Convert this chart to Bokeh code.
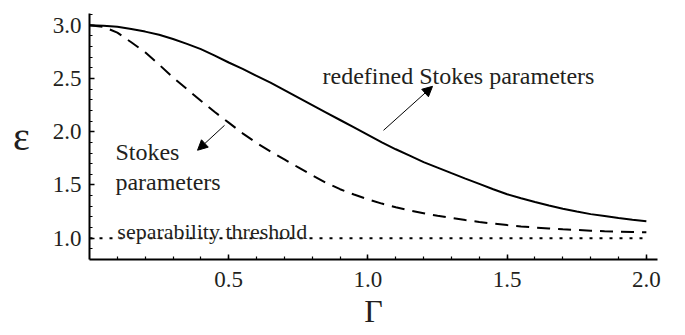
from bokeh.plotting import figure
from bokeh.models import Range1d, FixedTicker, NumeralTickFormatter, Arrow, NormalHead
from bokeh.core.properties import value
from bokeh.embed import file_html
from bokeh.resources import INLINE

# Data
gamma = [0.00, 0.05, 0.10, 0.15, 0.20, 0.25, 0.30, 0.35, 0.40, 0.45,
         0.50, 0.55, 0.60, 0.65, 0.70, 0.75, 0.80, 0.85, 0.90, 0.95,
         1.00, 1.05, 1.10, 1.15, 1.20, 1.25, 1.30, 1.35, 1.40, 1.45,
         1.50, 1.55, 1.60, 1.65, 1.70, 1.75, 1.80, 1.85, 1.90, 1.95, 2.00]
eps_redefined = [3.000, 2.996, 2.985, 2.965, 2.940, 2.910, 2.870, 2.825, 2.775, 2.715,
                 2.650, 2.590, 2.525, 2.460, 2.390, 2.320, 2.250, 2.180, 2.110, 2.040,
                 1.970, 1.900, 1.835, 1.775, 1.715, 1.663, 1.611, 1.560, 1.510, 1.460,
                 1.413, 1.375, 1.340, 1.307, 1.277, 1.250, 1.226, 1.208, 1.190, 1.174, 1.160]
eps_stokes = [3.000, 2.985, 2.930, 2.840, 2.745, 2.630, 2.510, 2.400, 2.290, 2.185,
              2.085, 1.985, 1.895, 1.815, 1.740, 1.665, 1.590, 1.520, 1.460, 1.410,
              1.365, 1.325, 1.290, 1.260, 1.235, 1.210, 1.190, 1.170, 1.153, 1.137,
              1.123, 1.111, 1.100, 1.091, 1.083, 1.077, 1.071, 1.066, 1.062, 1.058, 1.055]
threshold_gamma = [0.0, 2.0]
threshold_eps = [1.0, 1.0]

x_major = [0.5, 1.0, 1.5, 2.0]
x_minor = [0.1, 0.2, 0.3, 0.4, 0.5, 0.6, 0.7, 0.8, 0.9, 1.0,
           1.1, 1.2, 1.3, 1.4, 1.5, 1.6, 1.7, 1.8, 1.9, 2.0]
y_major = [1.0, 1.5, 2.0, 2.5, 3.0]
y_minor = [0.9, 1.0, 1.1, 1.2, 1.3, 1.4, 1.5, 1.6, 1.7, 1.8, 1.9, 2.0,
           2.1, 2.2, 2.3, 2.4, 2.5, 2.6, 2.7, 2.8, 2.9, 3.0, 3.1]

FONT = "'Liberation Serif', serif"
TXT = "#231f20"

p = figure(width=685, height=335, output_backend="svg", toolbar_location=None,
           x_range=Range1d(0, 2.04), y_range=Range1d(0.8, 3.11),
           min_border_left=89, min_border_right=28, min_border_top=13, min_border_bottom=76)
p.xgrid.visible = False
p.ygrid.visible = False
p.outline_line_color = None
p.background_fill_color = "white"

for ax, major, minor in ((p.xaxis[0], x_major, x_minor), (p.yaxis[0], y_major, y_minor)):
    ax.ticker = FixedTicker(ticks=major, minor_ticks=minor)
    ax.formatter = NumeralTickFormatter(format="0.0")
    ax.axis_line_width = 2
    ax.axis_line_color = "black"
    ax.major_tick_in = 5
    ax.major_tick_out = 0
    ax.minor_tick_in = 3
    ax.minor_tick_out = 0
    ax.major_tick_line_width = 1.5
    ax.minor_tick_line_width = 1.2
    ax.major_tick_line_color = "black"
    ax.minor_tick_line_color = "black"
    ax.major_label_text_font = FONT
    ax.major_label_text_font_size = "23px"
    ax.major_label_text_color = TXT
    ax.major_label_standoff = 8
    ax.axis_label_text_font = FONT
    ax.axis_label_text_font_style = "normal"
    ax.axis_label_text_color = TXT

p.xaxis.major_label_standoff = 12
p.xaxis.axis_label = "Γ"
p.xaxis.axis_label_text_font_size = "32px"
p.xaxis.axis_label_standoff = 3
p.xaxis.axis_label_text_baseline = "middle"
p.yaxis.axis_label = "ε"
p.yaxis.axis_label_orientation = "horizontal"
p.yaxis.axis_label_text_font_size = "40px"
p.yaxis.axis_label_standoff = 20

p.line(gamma, eps_redefined, line_width=2, line_color="black")
p.line(gamma, eps_stokes, line_width=2, line_color="black", line_dash="13 8")
p.line(threshold_gamma, threshold_eps, line_width=2, line_color="black", line_dash="3 7")

def lab(x, y, text, size):
    p.text(x=[x], y=[y], text=[text], text_font=value(FONT), text_font_size=size,
           text_color=TXT, text_align="left", text_baseline="alphabetic")

lab(0.837, 2.52, "redefined Stokes parameters", "24px")
lab(0.093, 1.807, "Stokes", "24px")
lab(0.093, 1.525, "parameters", "24px")
lab(0.10, 1.066, "separability threshold", "22px")

p.add_layout(Arrow(end=NormalHead(size=10, fill_color="black", line_color="black", line_width=1),
                   x_start=0.485, y_start=2.06, x_end=0.388, y_end=1.826,
                   line_width=1, line_color="black"))
p.add_layout(Arrow(end=NormalHead(size=10, fill_color="black", line_color="black", line_width=1),
                   x_start=1.056, y_start=2.013, x_end=1.232, y_end=2.426,
                   line_width=1, line_color="black"))

open("out.html", "w").write(file_html(p, INLINE))
